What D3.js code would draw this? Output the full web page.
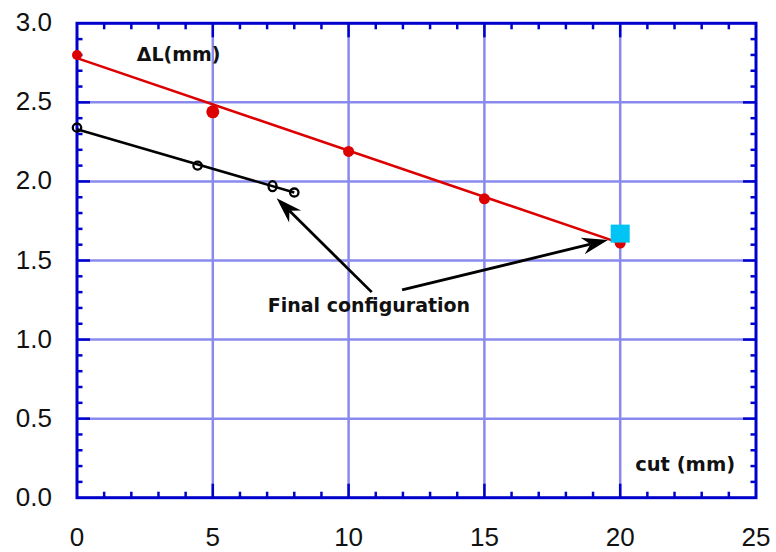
<!DOCTYPE html>
<html>
<head>
<meta charset="utf-8">
<script src="https://cdn.jsdelivr.net/npm/d3@7"></script>
<style>
  html, body { margin: 0; padding: 0; background: #fff; }
  svg { display: block; }
</style>
</head>
<body>
<svg id="chart" width="776" height="552"></svg>
<script>
// Elongation versus cut length
const redX = [0, 5, 10, 15, 20];
const redY = [2.80, 2.44, 2.19, 1.89, 1.61];
const redR = [5, 6.5, 5.5, 5.5, 5.5];
const redFitX = [0, 20];
const redFitY = [2.78, 1.61];

const blackX = [0, 4.44, 7.2, 8.0];
const blackY = [2.34, 2.10, 1.97, 1.93];
const blackFitX = [0, 8];
const blackFitY = [2.33, 1.93];

const finalX = [20];
const finalY = [1.67];

const xTicks = [0, 5, 10, 15, 20, 25];
const yTicks = [0.0, 0.5, 1.0, 1.5, 2.0, 2.5, 3.0];
const xTickLabels = ["0", "5", "10", "15", "20", "25"];
const yTickLabels = ["0.0", "0.5", "1.0", "1.5", "2.0", "2.5", "3.0"];

// annotation arrows: [fromX, fromY, toX, toY]
const arrows = [
  [10.85, 1.30, 7.35, 1.894],
  [11.97, 1.314, 19.55, 1.63]
];

const svg = d3.select("#chart");
const x = d3.scaleLinear().domain([0, 25]).range([77, 756]);
const y = d3.scaleLinear().domain([0, 3]).range([497.7, 23.3]);

const gridColor = "#8a8aee";
const axisColor = "#0000cc";

// grid
const grid = svg.append("g");
grid.selectAll("line.gx").data(xTicks.filter(d => d > 0 && d < 25)).join("line")
  .attr("x1", d => x(d)).attr("x2", d => x(d))
  .attr("y1", y(0)).attr("y2", y(3))
  .attr("stroke", gridColor).attr("stroke-width", 2.5);
grid.selectAll("line.gy").data(yTicks.filter(d => d > 0 && d < 3)).join("line")
  .attr("y1", d => y(d)).attr("y2", d => y(d))
  .attr("x1", x(0)).attr("x2", x(25))
  .attr("stroke", gridColor).attr("stroke-width", 2.5);

// ticks on all four sides, pointing inward
const ticks = svg.append("g").attr("stroke", axisColor).attr("stroke-width", 2.5);
const xMinor = d3.range(1, 25).filter(d => d % 5 !== 0);
const yMinor = d3.range(1, 30).filter(d => d % 5 !== 0).map(d => d / 10);
const xMajor = xTicks.filter(d => d > 0 && d < 25);
const yMajor = yTicks.filter(d => d > 0 && d < 3);
function xTickLines(vals, len) {
  vals.forEach(v => {
    ticks.append("line").attr("x1", x(v)).attr("x2", x(v)).attr("y1", y(0)).attr("y2", y(0) - len);
    ticks.append("line").attr("x1", x(v)).attr("x2", x(v)).attr("y1", y(3)).attr("y2", y(3) + len);
  });
}
function yTickLines(vals, len) {
  vals.forEach(v => {
    ticks.append("line").attr("y1", y(v)).attr("y2", y(v)).attr("x1", x(0)).attr("x2", x(0) + len);
    ticks.append("line").attr("y1", y(v)).attr("y2", y(v)).attr("x1", x(25)).attr("x2", x(25) - len);
  });
}
xTickLines(xMinor, 6);
xTickLines(xMajor, 14);
yTickLines(yMinor, 5.5);
yTickLines(yMajor, 13);

// frame
svg.append("rect")
  .attr("x", x(0)).attr("y", y(3))
  .attr("width", x(25) - x(0)).attr("height", y(0) - y(3))
  .attr("fill", "none").attr("stroke", axisColor).attr("stroke-width", 3);

// tick labels
svg.append("g").selectAll("text").data(xTicks).join("text")
  .attr("x", d => x(d)).attr("y", 546)
  .attr("text-anchor", "middle")
  .attr("font-family", "'Liberation Sans', Arial, sans-serif")
  .attr("font-size", 26).attr("fill", "#111")
  .text((d, i) => xTickLabels[i]);
svg.append("g").selectAll("text").data(yTicks).join("text")
  .attr("x", 52).attr("y", d => y(d) + 8)
  .attr("text-anchor", "end")
  .attr("font-family", "'Liberation Sans', Arial, sans-serif")
  .attr("font-size", 26).attr("fill", "#111")
  .text((d, i) => yTickLabels[i]);

// axis titles inside plot
const boldFont = "'DejaVu Sans', Verdana, sans-serif";
svg.append("text").attr("x", x(2.2)).attr("y", y(2.76))
  .attr("font-family", boldFont).attr("font-weight", "bold").attr("font-size", 19)
  .attr("fill", "#111").text("ΔL(mm)");
svg.append("text").attr("x", x(20.55)).attr("y", y(0.17))
  .attr("font-family", boldFont).attr("font-weight", "bold").attr("font-size", 19.5)
  .attr("fill", "#111").text("cut (mm)");

// fitted lines
const line = d3.line().x(d => x(d[0])).y(d => y(d[1]));
svg.append("path").datum(redFitX.map((v, i) => [v, redFitY[i]]))
  .attr("d", line).attr("fill", "none").attr("stroke", "#dd0000").attr("stroke-width", 2.5);
svg.append("path").datum(blackFitX.map((v, i) => [v, blackFitY[i]]))
  .attr("d", line).attr("fill", "none").attr("stroke", "#000").attr("stroke-width", 2.5);

// red points
svg.append("g").selectAll("circle").data(redX).join("circle")
  .attr("cx", d => x(d)).attr("cy", (d, i) => y(redY[i]))
  .attr("r", (d, i) => redR[i]).attr("fill", "#dd0000");

// open black points
svg.append("g").selectAll("ellipse").data(blackX).join("ellipse")
  .attr("cx", d => x(d)).attr("cy", (d, i) => y(blackY[i]))
  .attr("rx", (d, i) => i === 2 ? 4 : 4.2)
  .attr("ry", (d, i) => i === 2 ? 5 : 4)
  .attr("fill", "none").attr("stroke", "#000").attr("stroke-width", 2.3);

// final configuration marker
svg.append("g").selectAll("rect").data(finalX).join("rect")
  .attr("x", d => x(d) - 9.5).attr("y", (d, i) => y(finalY[i]) - 9)
  .attr("width", 19).attr("height", 18).attr("fill", "#00c4f4");

// annotation arrows
const arrowG = svg.append("g");
arrows.forEach(a => {
  const x1 = x(a[0]), y1 = y(a[1]), x2 = x(a[2]), y2 = y(a[3]);
  const ang = Math.atan2(y2 - y1, x2 - x1);
  const L = 26, W = 8.5, notch = 18;
  const ux = Math.cos(ang), uy = Math.sin(ang);
  const px = -uy, py = ux;
  const bx = x2 - ux * L, by = y2 - uy * L;
  const nx = x2 - ux * notch, ny = y2 - uy * notch;
  arrowG.append("line")
    .attr("x1", x1).attr("y1", y1).attr("x2", nx).attr("y2", ny)
    .attr("stroke", "#000").attr("stroke-width", 2.8);
  arrowG.append("path")
    .attr("d", `M${x2},${y2} L${bx + px * W},${by + py * W} L${nx},${ny} L${bx - px * W},${by - py * W} Z`)
    .attr("fill", "#000");
});

svg.append("text").attr("x", x(10.75)).attr("y", y(1.175))
  .attr("text-anchor", "middle")
  .attr("font-family", boldFont).attr("font-weight", "bold").attr("font-size", 19)
  .attr("fill", "#111").text("Final configuration");
</script>
</body>
</html>
